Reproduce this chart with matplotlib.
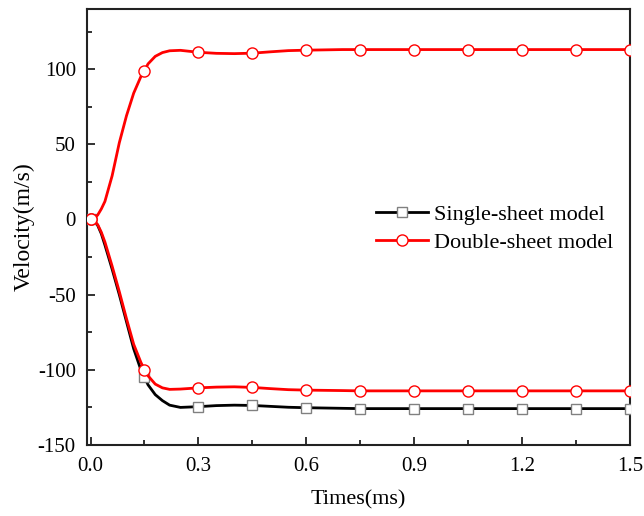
import matplotlib
matplotlib.use("Agg")
import matplotlib.pyplot as plt
from matplotlib.ticker import MultipleLocator

# dense time axis for the velocity curves (ms)
t_curve = [0.0, 0.01, 0.02, 0.03, 0.04, 0.06, 0.08, 0.10, 0.12, 0.14, 0.15, 0.16,
           0.18, 0.20, 0.22, 0.25, 0.30, 0.35, 0.40, 0.45, 0.50, 0.55, 0.60, 0.70,
           0.75, 0.90, 1.05, 1.20, 1.35, 1.50]

single_curve = [0, -0.8, -4, -9.5, -17, -33, -50, -68, -86, -100, -105, -110,
                -116.5, -120.5, -123.5, -125, -124.5, -123.8, -123.5, -123.7, -124.3,
                -124.9, -125.2, -125.6, -125.8, -125.8, -125.8, -125.8, -125.8, -125.8]
double_up_curve = [0, 0.6, 3, 7, 12, 29, 51, 69, 84, 95, 99, 103.5, 108.5, 111,
                   112.2, 112.5, 111.2, 110.5, 110.3, 110.6, 111.5, 112.3, 112.6, 113,
                   113, 113, 113, 113, 113, 113]
double_low_curve = [0, -0.7, -3.5, -8.5, -15, -31, -48, -66, -83, -95, -100, -104,
                    -109.5, -112, -113, -112.8, -112, -111.5, -111.3, -111.7, -112.5,
                    -113.2, -113.5, -113.8, -114, -114, -114, -114, -114, -114]

# sampled points shown with markers
t_mark = [0.0, 0.15, 0.30, 0.45, 0.60, 0.75, 0.90, 1.05, 1.20, 1.35, 1.50]
single_mark = [0, -105, -124.5, -123.7, -125.2, -125.8, -125.8, -125.8, -125.8, -125.8, -125.8]
double_up_mark = [0, 99, 111.2, 110.6, 112.6, 113, 113, 113, 113, 113, 113]
double_low_mark = [0, -100, -112, -111.7, -113.5, -114, -114, -114, -114, -114, -114]

x_ticks = [0, 0.3, 0.6, 0.9, 1.2, 1.5]
x_ticklabels = ["0.0", "0.3", "0.6", "0.9", "1.2", "1.5"]

plt.rcParams["font.family"] = ["Liberation Serif", "DejaVu Serif"]
plt.rcParams["axes.unicode_minus"] = False

fig = plt.figure(figsize=(6.44, 5.16), dpi=100)
ax = fig.add_axes([0.135, 0.1376, 0.843, 0.845])

sq = dict(marker="s", markersize=6.5, markerfacecolor="white",
          markeredgecolor="#808080", markeredgewidth=1.0)
ci = dict(marker="o", markersize=8, markerfacecolor="white",
          markeredgecolor="red", markeredgewidth=1.0)

ax.plot(t_curve, single_curve, color="black", lw=2, zorder=2)
ax.plot(t_mark, single_mark, ls="none", zorder=3, **sq)
ax.plot(t_curve, double_up_curve, color="red", lw=2, zorder=4)
ax.plot(t_curve, double_low_curve, color="red", lw=2, zorder=4)
ax.plot(t_mark, double_up_mark, ls="none", zorder=5, **ci)
ax.plot(t_mark, double_low_mark, ls="none", zorder=5, **ci)

# legend proxies: line with a marker in the middle
ax.plot([], [], color="black", lw=2, label="Single-sheet model", **sq)
ax.plot([], [], color="red", lw=2, label="Double-sheet model", **ci)
ax.legend(loc="upper left", bbox_to_anchor=(0.532, 0.552), frameon=False,
          fontsize=16, handlelength=2.35, handletextpad=0.27, labelspacing=0.33,
          borderaxespad=0, borderpad=0)

ax.set_xlim(-0.01, 1.5)
ax.set_ylim(-150, 140)
ax.xaxis.set_minor_locator(MultipleLocator(0.15))
ax.yaxis.set_major_locator(MultipleLocator(50))
ax.yaxis.set_minor_locator(MultipleLocator(25))
ax.set_xticks(x_ticks)
ax.set_xticklabels(x_ticklabels)
ax.tick_params(which="both", direction="in", labelsize=15, width=1.3, color="#222222")
ax.tick_params(which="major", length=6)
ax.tick_params(which="minor", length=3.5)
ax.tick_params(axis="x", which="major", pad=9)
ax.tick_params(axis="y", which="major", pad=8)
for s in ax.spines.values():
    s.set_linewidth(1.5)
    s.set_color("#222222")

ax.set_xlabel("Times(ms)", fontsize=16, labelpad=10)
ax.set_ylabel("Velocity(m/s)", fontsize=17, labelpad=2)

fig.savefig("out.png", dpi=100)
